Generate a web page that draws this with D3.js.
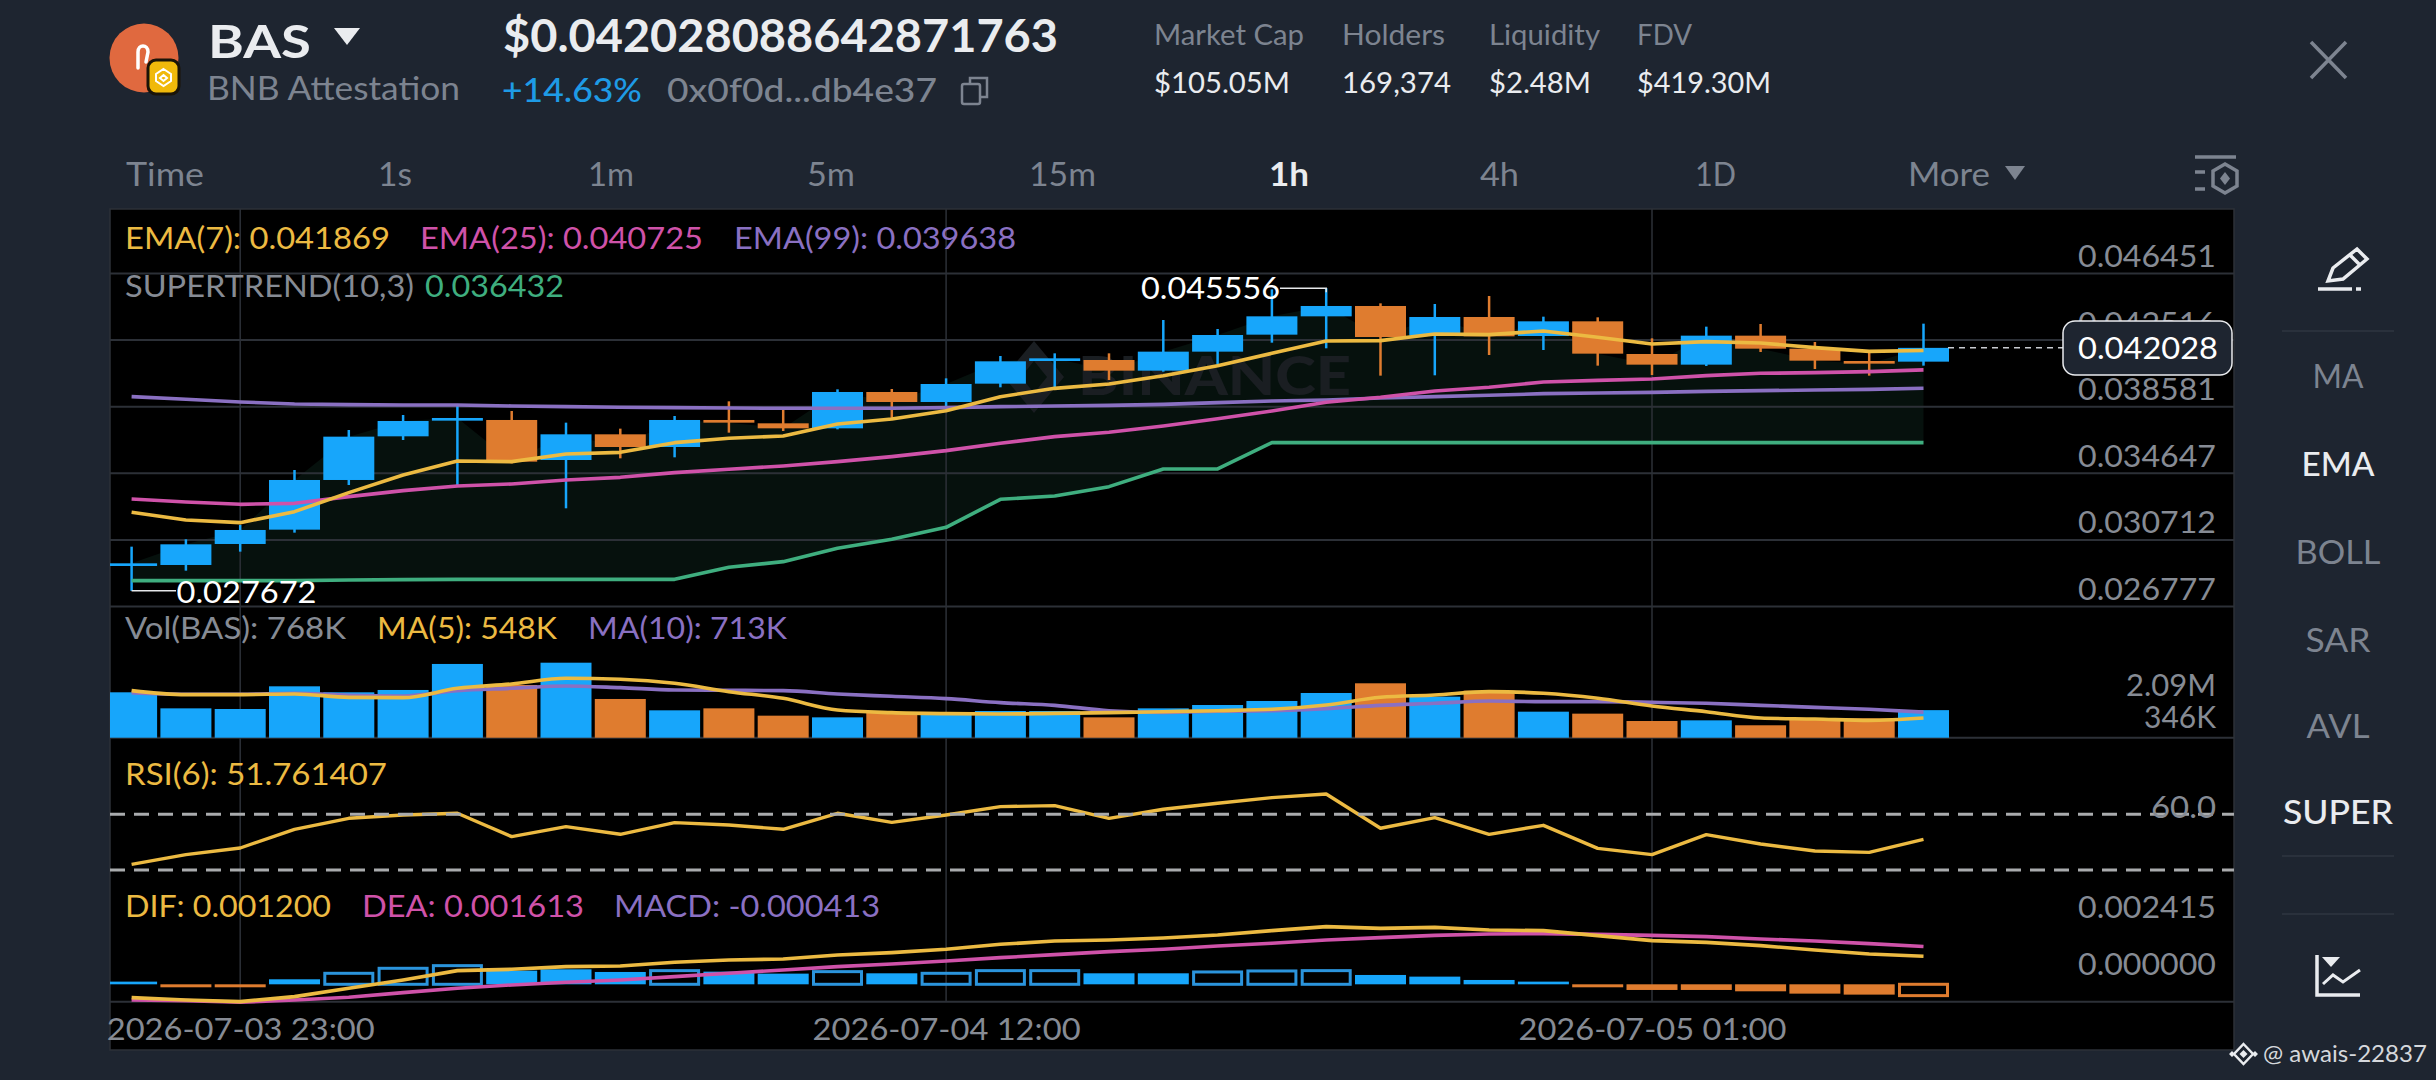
<!DOCTYPE html>
<html>
<head>
<meta charset="utf-8">
<script src="https://cdn.jsdelivr.net/npm/d3@7"></script>
<style>
  html, body { margin: 0; padding: 0; background: #1e2530; }
  svg { display: block; font-family: Lato, "Open Sans", sans-serif; }
</style>
</head>
<body>
<svg id="chart" width="2436" height="1080"></svg>
<script>
// candles, oldest first
const open_ = [0.029141,0.029200,0.030441,0.031288,0.034222,0.036802,0.037727,0.037767,0.035403,0.036920,0.036171,0.037767,0.037570,0.037274,0.039421,0.038830,0.039913,0.041252,0.041311,0.040681,0.041804,0.042808,0.043891,0.044502,0.042749,0.043852,0.042729,0.043596,0.041666,0.041036,0.042749,0.041981,0.041252,0.041213];
const close_ = [0.029299,0.030421,0.031268,0.034222,0.036782,0.037708,0.037885,0.035305,0.036920,0.036171,0.037767,0.037609,0.037274,0.039421,0.038830,0.039893,0.041233,0.041410,0.040681,0.041804,0.042788,0.043891,0.044502,0.042670,0.043852,0.042710,0.043596,0.041686,0.041036,0.042749,0.041981,0.041272,0.041095,0.042028];
const high = [0.030283,0.030717,0.031563,0.034813,0.037176,0.038062,0.038594,0.038298,0.037609,0.037255,0.038003,0.038869,0.038397,0.039578,0.039598,0.040228,0.041548,0.041705,0.041705,0.043675,0.043143,0.045486,0.045556,0.044659,0.044620,0.045092,0.043871,0.043832,0.042591,0.043281,0.043438,0.042375,0.041863,0.043458];
const low = [0.027672,0.028865,0.029988,0.031110,0.033926,0.036585,0.033867,0.035207,0.032548,0.035502,0.035561,0.037018,0.037117,0.037215,0.037767,0.038357,0.039697,0.039697,0.040130,0.040622,0.040977,0.042335,0.042001,0.040386,0.040406,0.041607,0.041902,0.040977,0.040425,0.040957,0.041784,0.040780,0.040386,0.040977];

const ema7 = [0.032312,0.031859,0.031701,0.032351,0.033474,0.034517,0.035344,0.035305,0.035758,0.035856,0.036427,0.036684,0.036821,0.037530,0.037826,0.038318,0.039145,0.039637,0.039893,0.040386,0.040977,0.041705,0.042434,0.042454,0.042847,0.042808,0.043025,0.042650,0.042257,0.042394,0.042316,0.042040,0.041823,0.041869];
const ema25 = [0.033099,0.032922,0.032784,0.032843,0.033237,0.033592,0.033867,0.033986,0.034222,0.034379,0.034655,0.034852,0.035049,0.035305,0.035600,0.035955,0.036388,0.036782,0.037038,0.037412,0.037845,0.038298,0.038810,0.039106,0.039480,0.039697,0.040012,0.040110,0.040189,0.040386,0.040524,0.040563,0.040622,0.040725];
const ema99 = [0.039145,0.038988,0.038830,0.038712,0.038672,0.038653,0.038653,0.038594,0.038554,0.038515,0.038495,0.038476,0.038456,0.038456,0.038456,0.038495,0.038554,0.038594,0.038633,0.038692,0.038791,0.038889,0.038948,0.039066,0.039145,0.039224,0.039322,0.039362,0.039401,0.039460,0.039500,0.039539,0.039578,0.039638];
const supertrend = [0.028275,0.028275,0.028275,0.028275,0.028314,0.028334,0.028353,0.028353,0.028353,0.028353,0.028353,0.029062,0.029397,0.030185,0.030717,0.031425,0.033080,0.033277,0.033828,0.034872,0.034872,0.036432,0.036432,0.036432,0.036432,0.036432,0.036432,0.036432,0.036432,0.036432,0.036432,0.036432,0.036432,0.036432];

const volume = [1265,818,800,1432,1265,1330,2055,1469,2090,1079,763,818,614,567,698,632,744,744,567,818,911,1023,1246,1516,1144,1311,725,670,465,484,346,539,539,768];
const volMa5 = [1311,1200,1200,1218,1125,1116,1376,1497,1655,1628,1516,1283,1097,772,698,670,660,679,698,725,753,791,911,1125,1190,1283,1237,1097,884,725,549,521,484,548];
const volMa10 = [1256,1209,1209,1237,1181,1163,1311,1376,1442,1395,1330,1321,1311,1218,1153,1088,977,902,753,707,735,753,809,902,958,1023,1004,1004,986,958,902,846,791,713];

const rsi = [43.52,46.71,48.90,55.06,58.68,59.78,60.33,52.64,55.93,53.41,57.25,56.48,55.06,60.33,57.36,59.78,62.53,62.86,58.68,61.65,63.63,65.49,66.70,55.39,58.90,53.41,56.37,48.79,46.71,53.30,50.22,47.91,47.47,51.76];
const rsiLevels = [60, 41.65];

const dif = [-0.000570,-0.000669,-0.000740,-0.000527,-0.000171,0.000185,0.000584,0.000641,0.000755,0.000783,0.000940,0.001040,0.001082,0.001253,0.001353,0.001495,0.001709,0.001851,0.001894,0.001979,0.002108,0.002293,0.002464,0.002392,0.002435,0.002321,0.002293,0.002079,0.001865,0.001794,0.001652,0.001467,0.001296,0.001200];
const dea = [-0.000669,-0.000698,-0.000769,-0.000669,-0.000555,-0.000356,-0.000171,-0.000028,0.000085,0.000185,0.000328,0.000470,0.000612,0.000755,0.000869,0.000997,0.001139,0.001267,0.001396,0.001495,0.001638,0.001752,0.001894,0.001994,0.002093,0.002150,0.002164,0.002136,0.002093,0.002036,0.001937,0.001851,0.001737,0.001613];
const macd = [0.000114,-0.000128,-0.000128,0.000214,0.000470,0.000684,0.000797,0.000584,0.000641,0.000527,0.000584,0.000541,0.000456,0.000541,0.000470,0.000470,0.000584,0.000584,0.000470,0.000470,0.000527,0.000570,0.000584,0.000399,0.000328,0.000185,0.000114,-0.000128,-0.000242,-0.000242,-0.000299,-0.000399,-0.000441,-0.000484];
const macdHollow = [4,5,6,10,13,15,16,17,20,21,22,33];

const priceTicks = [0.046451,0.042516,0.038581,0.034647,0.030712,0.026777];
const macdTicks = [0.002415,0];
const dateTicks = [2,15,28];
const dateLabels = ["2026-07-03 23:00","2026-07-04 12:00","2026-07-05 01:00"];

const BG = "#1e2530", UP = "#17a6fb", DOWN = "#df7c2f";
const YELLOW = "#ecba42", PINK = "#cf52a9", PURPLE = "#8a70c2", GREEN = "#3fae7f";
const GRAY = "#868b94", DIM = "#7d8490", LIGHT = "#eaecef", GRID = "#2c3037";

const svg = d3.select("#chart");

const panel = {left: 110, right: 2234, top: 209, bottom: 1050};
const barW = 51;

const x = d3.scaleLinear().domain([0, 33]).range([131.6, 1923.5]);
const priceY = d3.scaleLinear().domain([0.026777, 0.046451]).range([606, 273]);
const volY = d3.scaleLinear().domain([0, 2090]).range([737.7, 662.7]);
const rsiY = d3.scaleLinear().domain([41.65, 60]).range([870, 814.3]);
const macdY = d3.scaleLinear().domain([0, 0.002415]).range([984.3, 927.8]);

function label(str, px, py, size, fill, opts = {}) {
  const t = svg.append("text")
    .attr("x", px).attr("y", py)
    .attr("font-size", size)
    .attr("fill", fill)
    .attr("font-weight", opts.weight || 400)
    .attr("text-anchor", opts.anchor || "start")
    .text(str);
  if (opts.width) t.attr("textLength", opts.width).attr("lengthAdjust", "spacingAndGlyphs");
  return t;
}

svg.append("rect").attr("width", 2436).attr("height", 1080).attr("fill", BG);
svg.append("rect")
   .attr("x", panel.left).attr("y", panel.top)
   .attr("width", panel.right - panel.left).attr("height", panel.bottom - panel.top)
   .attr("fill", "#000")
   .attr("stroke", GRID).attr("stroke-width", 1.5);

svg.append("clipPath").attr("id", "plot")
   .append("rect")
   .attr("x", panel.left).attr("y", panel.top)
   .attr("width", panel.right - panel.left).attr("height", panel.bottom - panel.top);

// supertrend band goes under everything else
const idx = d3.range(34);
svg.append("path")
   .attr("clip-path", "url(#plot)")
   .attr("fill", "#06110d")
   .attr("d", d3.area()
     .x(i => x(i))
     .y0(i => priceY(supertrend[i]))
     .y1(i => priceY(close_[i]))(idx));

// grid
const priceAxis = d3.axisLeft(priceY)
  .tickValues(priceTicks)
  .tickSize(panel.right - panel.left)
  .tickFormat(d3.format(".6f"));
const priceG = svg.append("g").attr("transform", `translate(${panel.right},0)`).call(priceAxis);
priceG.select(".domain").remove();
priceG.selectAll("line").attr("stroke", GRID).attr("stroke-width", 2);
priceG.selectAll("text")
  .attr("x", -18).attr("dy", -6.5)
  .attr("text-anchor", "end")
  .attr("dominant-baseline", "auto")
  .attr("font-size", 30).attr("font-family", "Lato").attr("fill", GRAY)
  .attr("textLength", 138).attr("lengthAdjust", "spacingAndGlyphs");

[737.7, 1001.7].forEach(y => {
  svg.append("line").attr("x1", panel.left).attr("x2", panel.right)
     .attr("y1", y).attr("y2", y).attr("stroke", GRID).attr("stroke-width", 2);
});

svg.selectAll(".vgrid").data(dateTicks).enter().append("line")
   .attr("class", "vgrid")
   .attr("x1", d => x(d)).attr("x2", d => x(d))
   .attr("y1", panel.top).attr("y2", 1001.7)
   .attr("stroke", GRID).attr("stroke-width", 1.5);

// watermark
svg.append("path")
   .attr("transform", "translate(1034,377)")
   .attr("fill", "#1a1e22")
   .attr("d", "M0,-36L30,0L0,36L-30,0Z M0,-16L-13,0L0,16L13,0Z")
   .attr("fill-rule", "evenodd");
label("BINANCE", 1078, 395, 54, "#1a1e22", {weight: 900, width: 273});

// candles
const plot = svg.append("g").attr("clip-path", "url(#plot)");
const candleColor = i => close_[i] >= open_[i] ? UP : DOWN;

plot.selectAll(".wick").data(idx).enter().append("line")
    .attr("class", "wick")
    .attr("x1", i => x(i)).attr("x2", i => x(i))
    .attr("y1", i => priceY(high[i])).attr("y2", i => priceY(low[i]))
    .attr("stroke", candleColor).attr("stroke-width", 2.5);

plot.selectAll(".body").data(idx).enter().append("rect")
    .attr("class", "body")
    .attr("x", i => x(i) - barW / 2)
    .attr("width", barW)
    .attr("y", i => priceY(Math.max(open_[i], close_[i])))
    .attr("height", i => Math.abs(priceY(open_[i]) - priceY(close_[i])))
    .attr("fill", candleColor);

function series(values, yScale, color, curve, width) {
  plot.append("path")
      .attr("fill", "none")
      .attr("stroke", color)
      .attr("stroke-width", width || 3.6)
      .attr("stroke-linejoin", "round")
      .attr("d", d3.line().curve(curve || d3.curveLinear).x((d, i) => x(i)).y(d => yScale(d))(values));
}

series(supertrend, priceY, GREEN);
series(ema99, priceY, PURPLE);
series(ema25, priceY, PINK);
series(ema7, priceY, YELLOW);

// high and low markers
svg.append("path").attr("fill", "none").attr("stroke", "#e6e8ea").attr("stroke-width", 1.5)
   .attr("d", `M${x(0)},${priceY(low[0])}H176`);
svg.append("path").attr("fill", "none").attr("stroke", "#e6e8ea").attr("stroke-width", 1.5)
   .attr("d", `M1280,${priceY(high[22])}H${x(22)}V${priceY(high[22]) + 4}`);
label("0.027672", 176.5, 602.7, 30, "#fff", {width: 140});
label("0.045556", 1141, 298.7, 30, "#fff", {width: 139});

// last price
svg.append("line")
   .attr("x1", 1948).attr("x2", 2063)
   .attr("y1", priceY(close_[33])).attr("y2", priceY(close_[33]))
   .attr("stroke", "#c9ccd1").attr("stroke-width", 1.5).attr("stroke-dasharray", "6 5");
svg.append("rect")
   .attr("x", 2063).attr("y", 321).attr("width", 169).attr("height", 54).attr("rx", 12)
   .attr("fill", BG).attr("stroke", LIGHT).attr("stroke-width", 1.5);
label("0.042028", 2218, 359, 30, "#fff", {anchor: "end", width: 140});

// volume
plot.selectAll(".vol").data(idx).enter().append("rect")
    .attr("class", "vol")
    .attr("x", i => x(i) - barW / 2)
    .attr("width", barW)
    .attr("y", i => volY(volume[i]))
    .attr("height", i => volY(0) - volY(volume[i]))
    .attr("fill", candleColor);
series(volMa10, volY, PURPLE, d3.curveMonotoneX);
series(volMa5, volY, YELLOW, d3.curveMonotoneX);

// rsi
rsiLevels.forEach(v => {
  svg.append("line").attr("x1", panel.left).attr("x2", panel.right)
     .attr("y1", rsiY(v)).attr("y2", rsiY(v))
     .attr("stroke", "#a9abad").attr("stroke-width", 3).attr("stroke-dasharray", "15 9");
});
series(rsi, rsiY, YELLOW, d3.curveLinear, 3.4);

// macd
const hollow = i => macdHollow.includes(i);
plot.selectAll(".hist").data(idx).enter().append("rect")
    .attr("class", "hist")
    .attr("x", i => x(i) - barW / 2 + (hollow(i) ? 1.5 : 0))
    .attr("width", i => barW - (hollow(i) ? 3 : 0))
    .attr("y", i => macdY(Math.max(macd[i], 0)))
    .attr("height", i => Math.abs(macdY(macd[i]) - macdY(0)))
    .attr("fill", i => hollow(i) ? "none" : (macd[i] >= 0 ? UP : DOWN))
    .attr("stroke", i => hollow(i) ? (macd[i] >= 0 ? "#2b94dc" : DOWN) : "none")
    .attr("stroke-width", 3);
series(dea, macdY, PINK);
series(dif, macdY, YELLOW);

const macdAxis = d3.axisLeft(macdY).tickValues(macdTicks).tickSize(0).tickFormat(d3.format(".6f"));
const macdG = svg.append("g").attr("transform", "translate(2216,0)").call(macdAxis);
macdG.select(".domain").remove();
macdG.selectAll("text")
  .attr("x", 0).attr("dy", -10)
  .attr("text-anchor", "end")
  .attr("font-size", 30).attr("font-family", "Lato").attr("fill", GRAY)
  .attr("textLength", 138).attr("lengthAdjust", "spacingAndGlyphs");

// dates
const dateAxis = d3.axisBottom(x).tickValues(dateTicks).tickSize(0).tickFormat((d, i) => dateLabels[i]);
const dateG = svg.append("g").attr("transform", "translate(0,1040)").call(dateAxis);
dateG.select(".domain").remove();
dateG.selectAll("text")
  .attr("y", 0).attr("dy", 0)
  .attr("font-size", 30).attr("font-family", "Lato").attr("fill", GRAY)
  .attr("textLength", 268).attr("lengthAdjust", "spacingAndGlyphs");

// panel legends
label("EMA(7): 0.041869", 125, 249, 30, YELLOW, {width: 265});
label("EMA(25): 0.040725", 420, 249, 30, PINK, {width: 283});
label("EMA(99): 0.039638", 734, 249, 30, PURPLE, {width: 282});
label("SUPERTREND(10,3)", 125, 297, 30, GRAY, {width: 289});
label("0.036432", 425, 297, 30, GREEN, {width: 139});
label("Vol(BAS): 768K", 125, 639, 30, GRAY, {width: 221});
label("MA(5): 548K", 377, 639, 30, YELLOW, {width: 180});
label("MA(10): 713K", 588, 639, 30, PURPLE, {width: 199});
label("2.09M", 2216, 696, 30, GRAY, {anchor: "end", width: 90});
label("346K", 2216, 728, 30, GRAY, {anchor: "end", width: 72});
label("RSI(6): 51.761407", 125, 785, 30, YELLOW, {width: 262});
label("60.0", 2216, 818, 30, GRAY, {anchor: "end", width: 65});
label("DIF: 0.001200", 125, 917, 30, YELLOW, {width: 206});
label("DEA: 0.001613", 362, 917, 30, PINK, {width: 222});
label("MACD: -0.000413", 614, 917, 30, PURPLE, {width: 266});

// header
svg.append("circle").attr("cx", 144).attr("cy", 58).attr("r", 34.5).attr("fill", "#e0693f");
svg.append("path").attr("fill", "none").attr("stroke", "#fff").attr("stroke-width", 3.5)
   .attr("stroke-linecap", "round")
   .attr("d", "M138,68V52C138,44 148,44 148,52L146,62");
svg.append("rect").attr("x", 148).attr("y", 60).attr("width", 31).attr("height", 34).attr("rx", 8)
   .attr("fill", "#f0b90b").attr("stroke", "#1a1408").attr("stroke-width", 3);
svg.append("path").attr("fill", "none").attr("stroke", "#fff").attr("stroke-width", 2)
   .attr("d", "M163.5,69L171,74V81L163.5,86L156,81V74Z M163.5,75L167,78L163.5,81L160,78Z");

label("BAS", 208, 58, 46, LIGHT, {weight: 700, width: 103});
svg.append("path").attr("fill", LIGHT).attr("d", "M334,28H360L347,45Z");
label("BNB Attestation", 207, 100, 32, DIM, {width: 253});
label("$0.042028088642871763", 503, 52, 46, LIGHT, {weight: 700, width: 555});
label("+14.63%", 502, 102, 32, "#1e9be6", {weight: 500, width: 140});
label("0x0f0d...db4e37", 667, 102, 32, DIM, {weight: 500, width: 270});
svg.append("rect").attr("x", 962).attr("y", 84).attr("width", 18).attr("height", 20).attr("rx", 2)
   .attr("fill", BG).attr("stroke", DIM).attr("stroke-width", 2.5);
svg.append("path").attr("fill", "none").attr("stroke", DIM).attr("stroke-width", 2.5)
   .attr("d", "M970,84V78H987V97H980");

label("Market Cap", 1154, 45, 28, DIM, {width: 150});
label("Holders", 1342, 45, 28, DIM, {width: 103});
label("Liquidity", 1489, 45, 28, DIM, {width: 111});
label("FDV", 1637, 45, 28, DIM, {width: 55});
label("$105.05M", 1154, 93, 28, LIGHT, {width: 136});
label("169,374", 1342, 93, 28, LIGHT, {width: 109});
label("$2.48M", 1489, 93, 28, LIGHT, {width: 102});
label("$419.30M", 1637, 93, 28, LIGHT, {width: 134});

svg.append("path").attr("fill", "none").attr("stroke", DIM).attr("stroke-width", 3.5)
   .attr("d", "M2311,42L2346,78M2346,42L2311,78");

// interval tabs
label("Time", 126, 186, 33, DIM, {width: 78});
label("1s", 378, 186, 33, DIM, {width: 34});
label("1m", 588, 186, 33, DIM, {width: 46});
label("5m", 807, 186, 33, DIM, {width: 48});
label("15m", 1029, 186, 33, DIM, {width: 67});
label("1h", 1269, 186, 33, LIGHT, {weight: 700, width: 40});
label("4h", 1480, 186, 33, DIM, {width: 39});
label("1D", 1695, 186, 33, DIM, {width: 41});
label("More", 1908, 186, 33, DIM, {width: 82});
svg.append("path").attr("fill", DIM).attr("d", "M2005,166H2025L2015,180Z");
svg.append("g").attr("fill", "none").attr("stroke", DIM).attr("stroke-width", 3.5).call(g => {
  g.append("path").attr("d", "M2195,157H2236");
  g.append("path").attr("d", "M2195,172H2205M2195,189H2205");
  g.append("path").attr("d", "M2225,164L2237,171V186L2225,193L2213,186V171Z");
  g.append("path").attr("fill", DIM).attr("stroke", "none").attr("d", "M2225,172L2230,178.5L2225,185L2220,178.5Z");
});

// side toolbar
svg.append("g").attr("fill", "none").attr("stroke", LIGHT).attr("stroke-width", 3.5).call(g => {
  g.append("path").attr("d", "M2328,281L2333,268L2357,249L2367,259L2343,279Z M2350,255L2360,265");
  g.append("path").attr("d", "M2318,289H2352M2356,289H2361");
  g.append("path").attr("d", "M2317,955V995H2360");
  g.append("path").attr("stroke-width", 3).attr("d", "M2323,984L2333,975L2343,982L2360,970");
  g.append("path").attr("fill", LIGHT).attr("stroke", "none").attr("d", "M2322,957H2340L2331,967Z");
});
[331, 856, 914].forEach(y => {
  svg.append("line").attr("x1", 2282).attr("x2", 2394).attr("y1", y).attr("y2", y)
     .attr("stroke", "#2f3641").attr("stroke-width", 1.5);
});
label("MA", 2338, 388, 32, DIM, {anchor: "middle", width: 51});
label("EMA", 2338, 476, 32, LIGHT, {anchor: "middle", weight: 500, width: 73});
label("BOLL", 2338, 564, 32, DIM, {anchor: "middle", width: 85});
label("SAR", 2338, 652, 32, DIM, {anchor: "middle", width: 65});
label("AVL", 2338, 738, 32, DIM, {anchor: "middle", width: 63});
label("SUPER", 2338, 824, 32, LIGHT, {anchor: "middle", weight: 500, width: 110});

// creator tag
svg.append("path").attr("fill", "none").attr("stroke", LIGHT).attr("stroke-width", 2.5)
   .attr("d", "M2243.5,1044L2253,1054L2243.5,1064L2234,1054Z");
svg.append("path").attr("fill", LIGHT)
   .attr("d", "M2243.5,1050L2247.5,1054L2243.5,1058L2239.5,1054Z M2232,1051L2235,1054L2232,1057L2229,1054Z M2255,1051L2258,1054L2255,1057L2252,1054Z");
label("@ awais-22837", 2263, 1062, 24, "#d5d8dc", {width: 164});
</script>
</body>
</html>
